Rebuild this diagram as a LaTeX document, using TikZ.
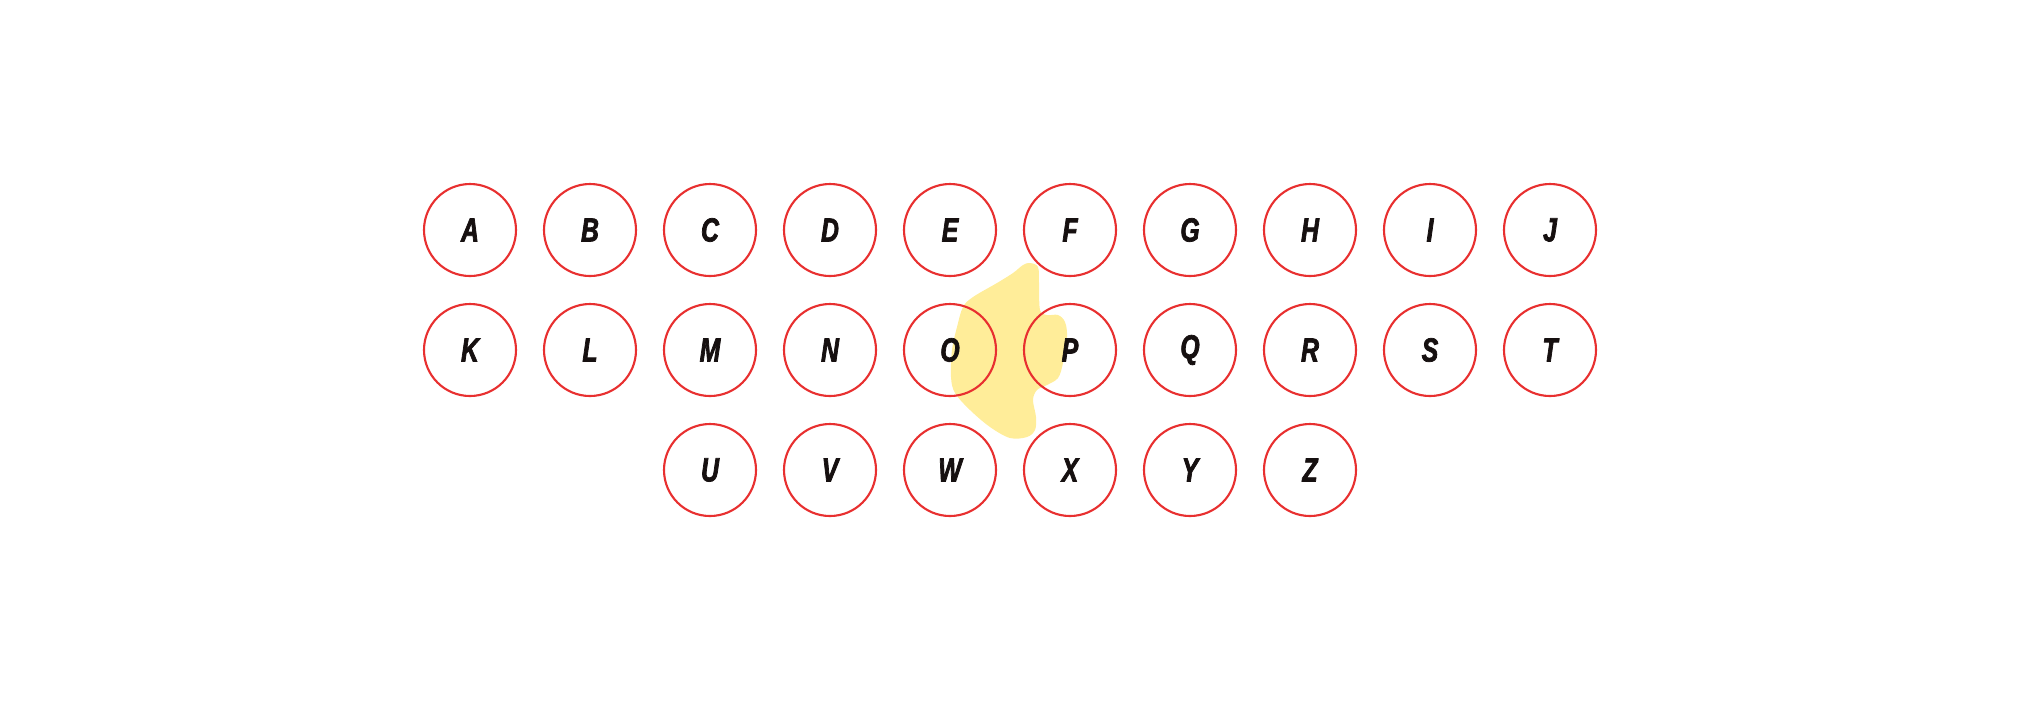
\documentclass[tikz,border=0pt]{standalone}
\usepackage{fontspec}
\usepackage{xcolor}
\newfontfamily\markerfont[FakeStretch=0.74, BoldItalicFeatures={FakeBold=2.2}]{Liberation Sans}
\usetikzlibrary{positioning}
\definecolor{ringred}{RGB}{232, 48, 48}
\definecolor{inkblack}{RGB}{22, 16, 16}
\definecolor{markyellow}{RGB}{255, 237, 153}
\tikzset{
    % Letter rings
    letter ring/.style={
        circle, draw=ringred, line width=0.6pt,
        minimum size=0.92cm, inner sep=0pt, text=inkblack,
        font=\markerfont\fontsize{9.5}{10}\selectfont\bfseries\itshape
    },
    % Highlighter stroke
    highlight/.style={
        fill=markyellow, draw=none
    }
}
\begin{document}
\begin{tikzpicture}

    % Canvas
    \useasboundingbox (0, 0) rectangle (20.2, 7);

    % Highlight behind O and P
    \fill[highlight] plot[smooth cycle, tension=0.55] coordinates {
        (10.30,4.37) (10.38,4.33) (10.39,4.17) (10.40,3.90) (10.47,3.85)
        (10.58,3.85) (10.65,3.78) (10.67,3.63) (10.63,3.37) (10.58,3.22)
        (10.47,3.15) (10.37,3.10) (10.33,3.00) (10.36,2.83) (10.35,2.70)
        (10.27,2.63) (10.10,2.62) (9.90,2.73) (9.70,2.90) (9.55,3.07)
        (9.51,3.23) (9.52,3.50) (9.57,3.73) (9.63,3.93) (9.73,4.03)
        (9.97,4.17) (10.13,4.27) (10.23,4.35)};

    % ======== ROW 1 ========
    \node[letter ring] (cA) at (4.7, 4.7) {A};
    \node[letter ring] (cB) at (5.9, 4.7) {B};
    \node[letter ring] (cC) at (7.1, 4.7) {C};
    \node[letter ring] (cD) at (8.3, 4.7) {D};
    \node[letter ring] (cE) at (9.5, 4.7) {E};
    \node[letter ring] (cF) at (10.7, 4.7) {F};
    \node[letter ring] (cG) at (11.9, 4.7) {G};
    \node[letter ring] (cH) at (13.1, 4.7) {H};
    \node[letter ring] (cI) at (14.3, 4.7) {I};
    \node[letter ring] (cJ) at (15.5, 4.7) {J};

    % ======== ROW 2 ========
    \node[letter ring] (cK) at (4.7, 3.5) {K};
    \node[letter ring] (cL) at (5.9, 3.5) {L};
    \node[letter ring] (cM) at (7.1, 3.5) {M};
    \node[letter ring] (cN) at (8.3, 3.5) {N};
    \node[letter ring] (cO) at (9.5, 3.5) {O};
    \node[letter ring] (cP) at (10.7, 3.5) {P};
    \node[letter ring] (cQ) at (11.9, 3.5) {Q};
    \node[letter ring] (cR) at (13.1, 3.5) {R};
    \node[letter ring] (cS) at (14.3, 3.5) {S};
    \node[letter ring] (cT) at (15.5, 3.5) {T};

    % ======== ROW 3 ========
    \node[letter ring] (cU) at (7.1, 2.3) {U};
    \node[letter ring] (cV) at (8.3, 2.3) {V};
    \node[letter ring] (cW) at (9.5, 2.3) {W};
    \node[letter ring] (cX) at (10.7, 2.3) {X};
    \node[letter ring] (cY) at (11.9, 2.3) {Y};
    \node[letter ring] (cZ) at (13.1, 2.3) {Z};

\end{tikzpicture}
\end{document}
